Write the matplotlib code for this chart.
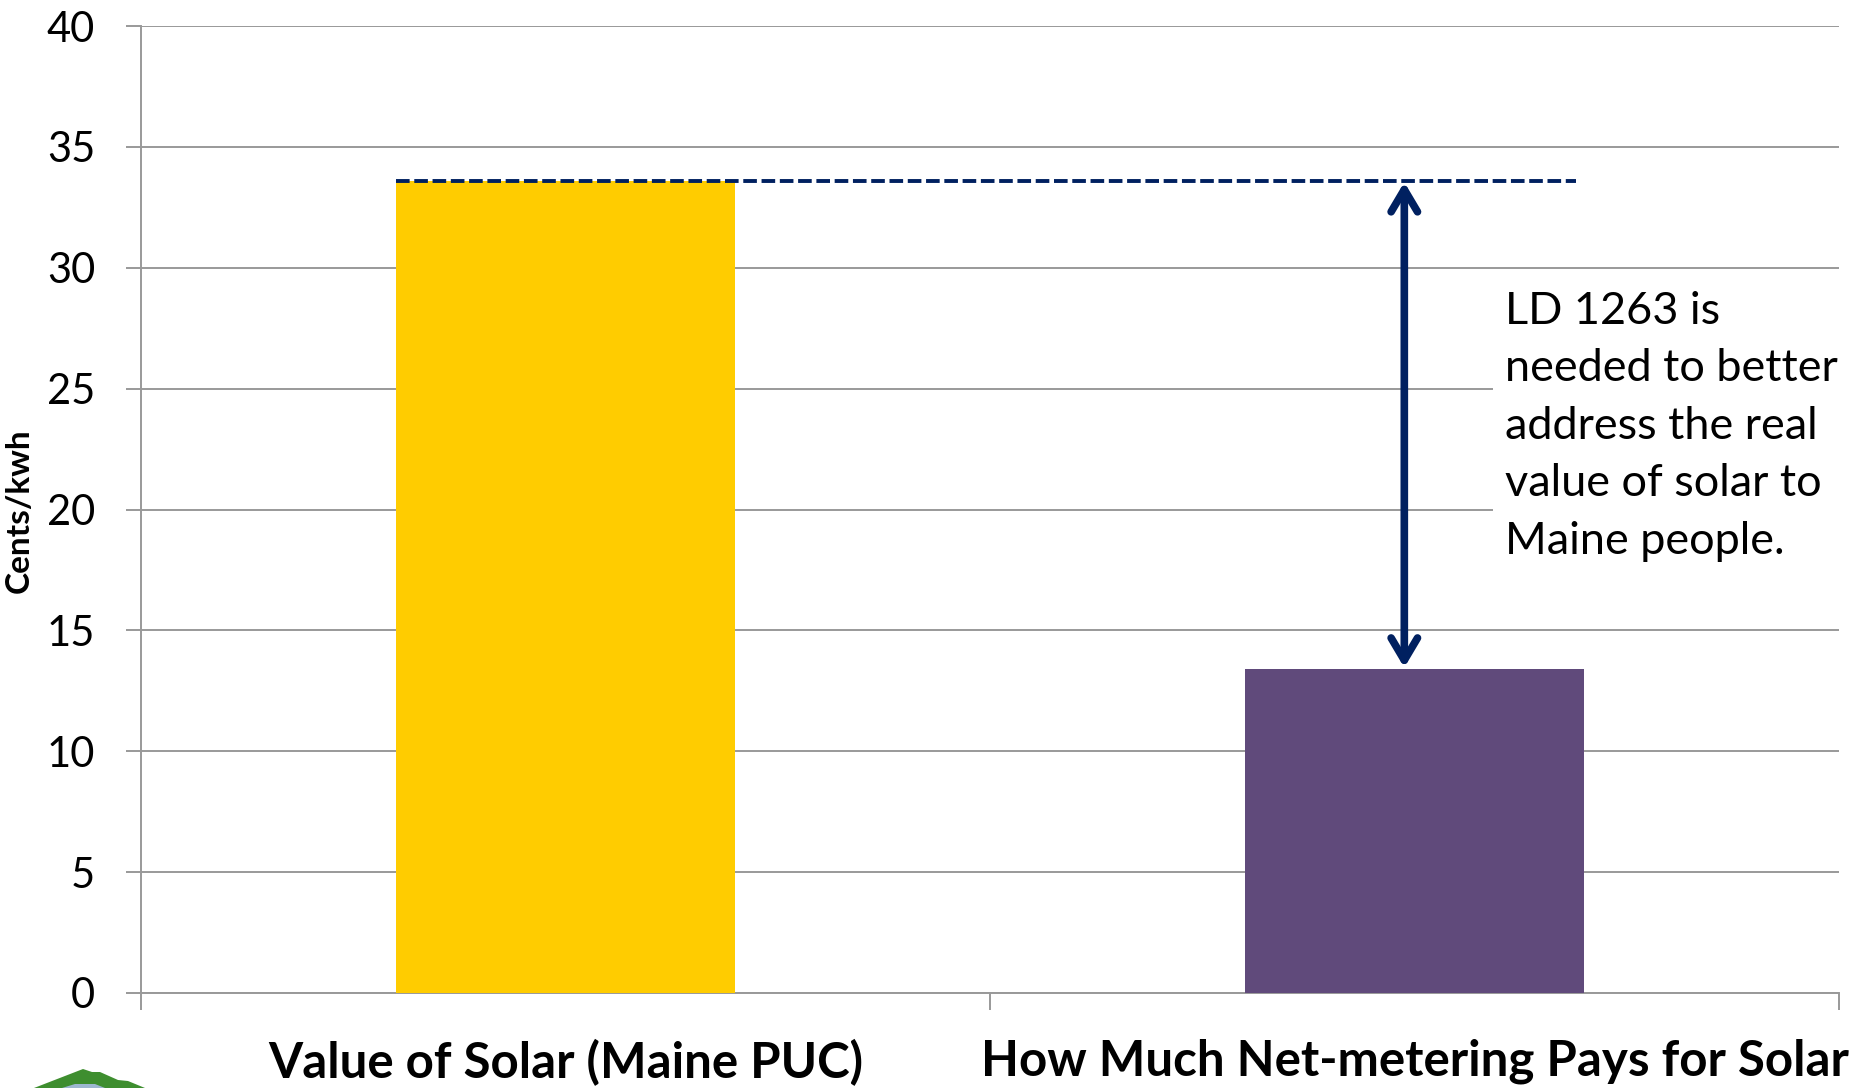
import matplotlib
matplotlib.use("Agg")
import matplotlib.pyplot as plt
from matplotlib.patches import Polygon

# Chart data
categories = ["Value of Solar (Maine PUC)", "How Much Net-metering Pays for Solar"]
values = [33.6, 13.4]
bar_colors = ["#FFCC00", "#604A7B"]
y_ticks = [0, 5, 10, 15, 20, 25, 30, 35, 40]
note = "LD 1263 is\nneeded to better\naddress the real\nvalue of solar to\nMaine people."

W, H, DPI = 1854, 1088, 100
fig = plt.figure(figsize=(W / DPI, H / DPI), dpi=DPI)
ax = fig.add_axes([141 / W, 1 - 993 / H, (1839 - 141) / W, (993 - 26) / H])

grid_c = "#999999"
x = list(range(len(categories)))
ax.bar(x, values, width=0.4, color=bar_colors, zorder=3)

ax.set_xlim(-0.5, len(categories) - 0.5)
ax.set_ylim(0, 40)
ax.set_yticks(y_ticks)
ax.set_yticklabels([str(t) for t in y_ticks], fontsize=30, family="Lato")
ax.yaxis.grid(True, color=grid_c, lw=1.4, zorder=0)
ax.set_axisbelow(True)

# category labels centred under bars, tick marks at category boundaries
ax.set_xticks(x)
ax.set_xticklabels(categories, fontsize=35.5, fontweight="bold", family="Lato")
ax.set_xticks([i - 0.5 for i in range(len(categories) + 1)], minor=True)
ax.tick_params(axis="x", which="major", length=0, pad=33)
ax.tick_params(axis="x", which="minor", length=12, width=1.4, color=grid_c)
ax.tick_params(axis="y", length=11, width=1.4, color=grid_c, pad=22)

for s in ("top", "right"):
    ax.spines[s].set_visible(False)
for s in ("left", "bottom"):
    ax.spines[s].set_color(grid_c)
    ax.spines[s].set_linewidth(1.4)

fig.text(19 / W, 1 - 511 / H, "Cents/kwh", fontsize=24, fontweight="bold",
         family="Lato", rotation=90, ha="center", va="center")

navy = "#002060"
# reference level of the first bar carried across to the second
ax.plot([-0.2, 1.19], [values[0], values[0]], color=navy, lw=2.8,
        linestyle=(0, (3.5, 1.2)), zorder=4, solid_capstyle="butt")

# gap arrow between the two values
ax.annotate("", xy=(0.988, values[1]), xytext=(0.988, values[0]),
            arrowprops=dict(arrowstyle="<->,head_length=1.6,head_width=0.95",
                            color=navy, lw=5.5, capstyle="round",
                            joinstyle="round", shrinkA=1, shrinkB=1),
            zorder=5)

ax.text(1.107, 23.45, note, fontsize=32.4, family="Lato", va="center", ha="left",
        linespacing=1.5, zorder=6,
        bbox=dict(facecolor="white", edgecolor="none", pad=9))

# small logo mark in the lower-left corner
logo = Polygon([(34 / W, 0), (83 / W, 19 / H), (92 / W, 16 / H), (100 / W, 16 / H),
                (118 / W, 8 / H), (128 / W, 7 / H), (145 / W, 0)],
               closed=True, transform=fig.transFigure, facecolor="#3E8E2F",
               edgecolor="none")
fig.patches.append(logo)
fig.patches.append(Polygon([(62 / W, 0), (75 / W, 4 / H), (95 / W, 4 / H), (105 / W, 0)],
                           closed=True, transform=fig.transFigure,
                           facecolor="#9DB7D0", edgecolor="none"))

fig.savefig("out.png", dpi=DPI)
